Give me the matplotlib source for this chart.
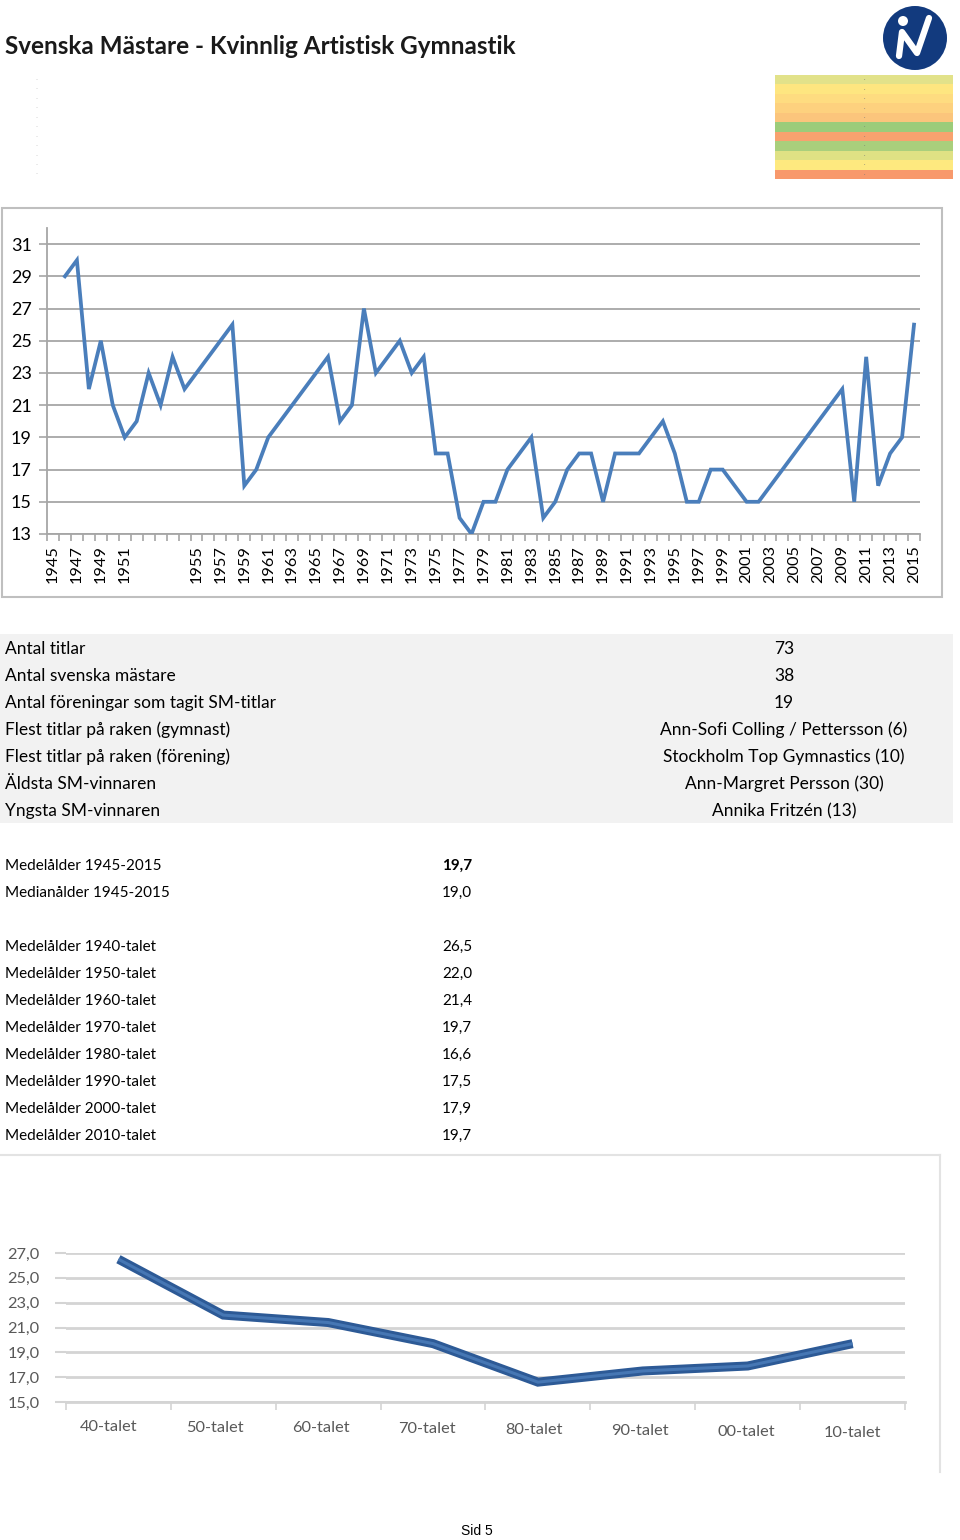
import matplotlib
matplotlib.use("Agg")
import matplotlib.pyplot as plt
import numpy as np
from matplotlib.patches import Rectangle, Ellipse
from matplotlib.lines import Line2D
from matplotlib.ticker import FixedLocator, NullFormatter
from matplotlib.transforms import ScaledTranslation

plt.rcParams['font.family'] = ['Lato', 'DejaVu Sans']

# ---------------- data ----------------
cat_labels = ['1945', '1946', '1947', '1948', '1949', '1950', '1951',
              '1952', '', '1953', '', '1954',
              '1955', '1956', '1957', '1958', '1959', '1960', '1961', '1962', '1963', '1964',
              '1965', '1966', '1967', '1968', '1969', '1970', '1971', '1972', '1973', '1974',
              '1975', '1976', '1977', '1978', '1979', '1980', '1981', '1982', '1983', '1984',
              '1985', '1986', '1987', '1988', '1989', '1990', '1991', '1992', '1993', '1994',
              '1995', '1996', '1997', '1998', '1999', '2000', '2001', '2002', '2003', '2004',
              '2005', '2006', '2007', '2008', '2009', '2010', '2011', '2012', '2013', '2014',
              '2015']
ages = [np.nan, 29, 30, 22, 25, 21, 19,
        20, 23, 21, 24, 22,
        23, 24, 25, 26, 16, 17, 19, 20, 21, 22,
        23, 24, 20, 21, 27, 23, 24, 25, 23, 24,
        18, 18, 14, 13, 15, 15, 17, 18, 19, 14,
        15, 17, 18, 18, 15, 18, 18, 18, 19, 20,
        18, 15, 15, 17, 17, 16, 15, 15, 16, 17,
        18, 19, 20, 21, 22, 15, 24, 16, 18, 19,
        26]
y_ticks_top = list(range(13, 32, 2))

stat_labels = ['Antal titlar', 'Antal svenska mästare', 'Antal föreningar som tagit SM-titlar',
               'Flest titlar på raken (gymnast)', 'Flest titlar på raken (förening)',
               'Äldsta SM-vinnaren', 'Yngsta SM-vinnaren']
stat_values = ['73', '38', '19', 'Ann-Sofi Colling / Pettersson (6)',
               'Stockholm Top Gymnastics (10)', 'Ann-Margret Persson (30)', 'Annika Fritzén (13)']

overall_labels = ['Medelålder 1945-2015', 'Medianålder 1945-2015']
overall_values = ['19,7', '19,0']

decade_row_labels = ['Medelålder 1940-talet', 'Medelålder 1950-talet', 'Medelålder 1960-talet',
                     'Medelålder 1970-talet', 'Medelålder 1980-talet', 'Medelålder 1990-talet',
                     'Medelålder 2000-talet', 'Medelålder 2010-talet']
decade_names = ['40-talet', '50-talet', '60-talet', '70-talet', '80-talet', '90-talet', '00-talet', '10-talet']
decade_avgs = [26.5, 22.0, 21.4, 19.7, 16.6, 17.5, 17.9, 19.7]
y_ticks_bottom = [15, 17, 19, 21, 23, 25, 27]

band_colors = ['#e2e28a', '#fee680', '#fedc80', '#fdd17e', '#fbc57c', '#9ccc7a',
               '#f8a26f', '#a9cf7c', '#dfe184', '#fee97f', '#f8996c']

# ---------------- figure ----------------
W, H = 960, 1540
fig = plt.figure(figsize=(W / 100, H / 100), dpi=100)


def fx(x):
    return x / W


def fy(y):
    return 1 - y / H


def box(x0, y0, x1, y1):
    return [fx(x0), fy(y1), (x1 - x0) / W, (y1 - y0) / H]


txtc = '#000000'

# title
fig.text(fx(5), fy(46), 'Svenska Mästare - Kvinnlig Artistisk Gymnastik', fontsize=17.5,
         fontweight='bold', color='#1a1a1a', ha='left', va='center')

# logo
fig.patches.append(Ellipse((fx(915), fy(38)), 64 / W, 64 / H, transform=fig.transFigure,
                           facecolor='#123a7e', edgecolor='none'))
fig.add_artist(Line2D([fx(899), fx(902), fx(917), fx(929)], [fy(56), fy(32), fy(53), fy(18)],
                      color='white', lw=4.5, solid_joinstyle='round', solid_capstyle='round'))
fig.patches.append(Ellipse((fx(903), fy(21)), 10 / W, 10 / H, transform=fig.transFigure,
                           facecolor='white', edgecolor='none'))

# colour bands
band_top, band_h = 75, 9.45
for i, c in enumerate(band_colors):
    y0 = band_top + i * band_h
    fig.patches.append(Rectangle((fx(775), fy(y0 + band_h)), 178 / W, band_h / H,
                                 transform=fig.transFigure, facecolor=c, edgecolor='none'))
    fig.text(fx(864), fy(y0 + band_h / 2), '·', fontsize=4, color='#777777', ha='center', va='center')
    fig.text(fx(37), fy(y0 + band_h / 2), '-', fontsize=4, color='#bbbbbb', ha='center', va='center')

# ---------------- top chart ----------------
fig.patches.append(Rectangle((fx(2), fy(597)), 940 / W, 389 / H, transform=fig.transFigure,
                             facecolor='none', edgecolor='#bfbfbf', lw=1.5))

ax1 = fig.add_axes(box(47, 228, 920, 534))
n = len(cat_labels)
xs = np.arange(n)
vals = np.array(ages, dtype=float)
mask = ~np.isnan(vals)
ax1.plot(xs[mask], vals[mask], color='#4a7ebb', lw=2.7, solid_joinstyle='miter', zorder=3)
ax1.set_xlim(-0.5, n - 0.5)
ax1.set_ylim(13, 32)
ax1.set_yticks(y_ticks_top)
ax1.set_yticklabels([str(t) for t in y_ticks_top], fontsize=13, color=txtc)
ax1.grid(axis='y', color='#a6a6a6', lw=1.3)
ax1.set_axisbelow(True)
major = xs[::2]
ax1.xaxis.set_major_locator(FixedLocator(major))
ax1.set_xticklabels([cat_labels[i] for i in major], rotation=90, fontsize=11.8, color=txtc)
ax1.xaxis.set_minor_locator(FixedLocator(np.arange(-0.5, n, 1.0)))
ax1.xaxis.set_minor_formatter(NullFormatter())
ax1.tick_params(axis='x', which='major', length=0, pad=8)
ax1.tick_params(axis='x', which='minor', length=5, color='#a6a6a6', width=1.2)
ax1.tick_params(axis='y', length=6, color='#a6a6a6', width=1.2, pad=5)
for s in ['top', 'right']:
    ax1.spines[s].set_visible(False)
for s in ['left', 'bottom']:
    ax1.spines[s].set_color('#a6a6a6')
    ax1.spines[s].set_linewidth(1.3)

# ---------------- stats table ----------------
fig.patches.append(Rectangle((fx(0), fy(823)), 953 / W, 189 / H, transform=fig.transFigure,
                             facecolor='#f2f2f2', edgecolor='none'))
for i, (lab, val) in enumerate(zip(stat_labels, stat_values)):
    y = 649 + 27 * i
    fig.text(fx(5), fy(y), lab, fontsize=12.5, color=txtc, ha='left', va='center')
    fig.text(fx(784), fy(y), val, fontsize=12.5, color=txtc, ha='center', va='center')

for i, (lab, val) in enumerate(zip(overall_labels, overall_values)):
    y = 866 + 27 * i
    fig.text(fx(5), fy(y), lab, fontsize=11, color=txtc, ha='left', va='center')
    fig.text(fx(472), fy(y), val, fontsize=11, color=txtc, ha='right', va='center',
             fontweight='bold' if i == 0 else 'normal')

for i, lab in enumerate(decade_row_labels):
    y = 947 + 27 * i
    fig.text(fx(5), fy(y), lab, fontsize=11, color=txtc, ha='left', va='center')
    fig.text(fx(472), fy(y), f'{decade_avgs[i]:.1f}'.replace('.', ','), fontsize=11,
             color=txtc, ha='right', va='center')

# ---------------- bottom chart ----------------
fig.add_artist(Line2D([fx(0), fx(940)], [fy(1155), fy(1155)], color='#e3e3e3', lw=1.5))
fig.add_artist(Line2D([fx(940), fx(940)], [fy(1155), fy(1472)], color='#e3e3e3', lw=1.5))

ax2 = fig.add_axes(box(66, 1253, 905, 1402))
xd = np.arange(len(decade_names))
ax2.plot(xd, decade_avgs, color='#2d5a96', lw=6.5, solid_joinstyle='miter', solid_capstyle='butt', zorder=3)
ax2.plot(xd, decade_avgs, color='#4677b4', lw=2.2, solid_joinstyle='miter', solid_capstyle='butt', zorder=4)
ax2.set_xlim(-0.5, len(decade_names) - 0.5)
ax2.set_ylim(15, 27)
ax2.set_yticks(y_ticks_bottom)
ax2.set_yticklabels([f'{t:.1f}'.replace('.', ',') for t in y_ticks_bottom], fontsize=11.8, color='#595959')
ax2.grid(axis='y', color='#d4d4d4', lw=2)
ax2.set_axisbelow(True)
ax2.set_xticks(xd)
ax2.set_xticklabels(decade_names, fontsize=11.8, color='#595959')
ax2.tick_params(axis='x', length=0, pad=12)
ax2.tick_params(axis='y', length=8, color='#d4d4d4', width=1.5, pad=11)
ax2.xaxis.set_minor_locator(FixedLocator(np.arange(-0.5, len(decade_names), 1.0)))
ax2.tick_params(axis='x', which='minor', length=6, color='#d4d4d4', width=1.2)
for s in ['top', 'right', 'left']:
    ax2.spines[s].set_visible(False)
ax2.spines['bottom'].set_color('#d4d4d4')
ax2.spines['bottom'].set_linewidth(2)
nd = len(decade_names)
for i, lbl in enumerate(ax2.get_xticklabels()):
    dx = (-10 + 10 * i / (nd - 1)) / 100
    dy = (-1 - 6 * i / (nd - 1)) / 100
    lbl.set_transform(lbl.get_transform() + ScaledTranslation(dx, dy, fig.dpi_scale_trans))

# page number
fig.text(fx(477), fy(1531), 'Sid 5', fontsize=10, family='Liberation Sans', color='#000000',
         ha='center', va='center')

fig.savefig('out.png', dpi=100)
